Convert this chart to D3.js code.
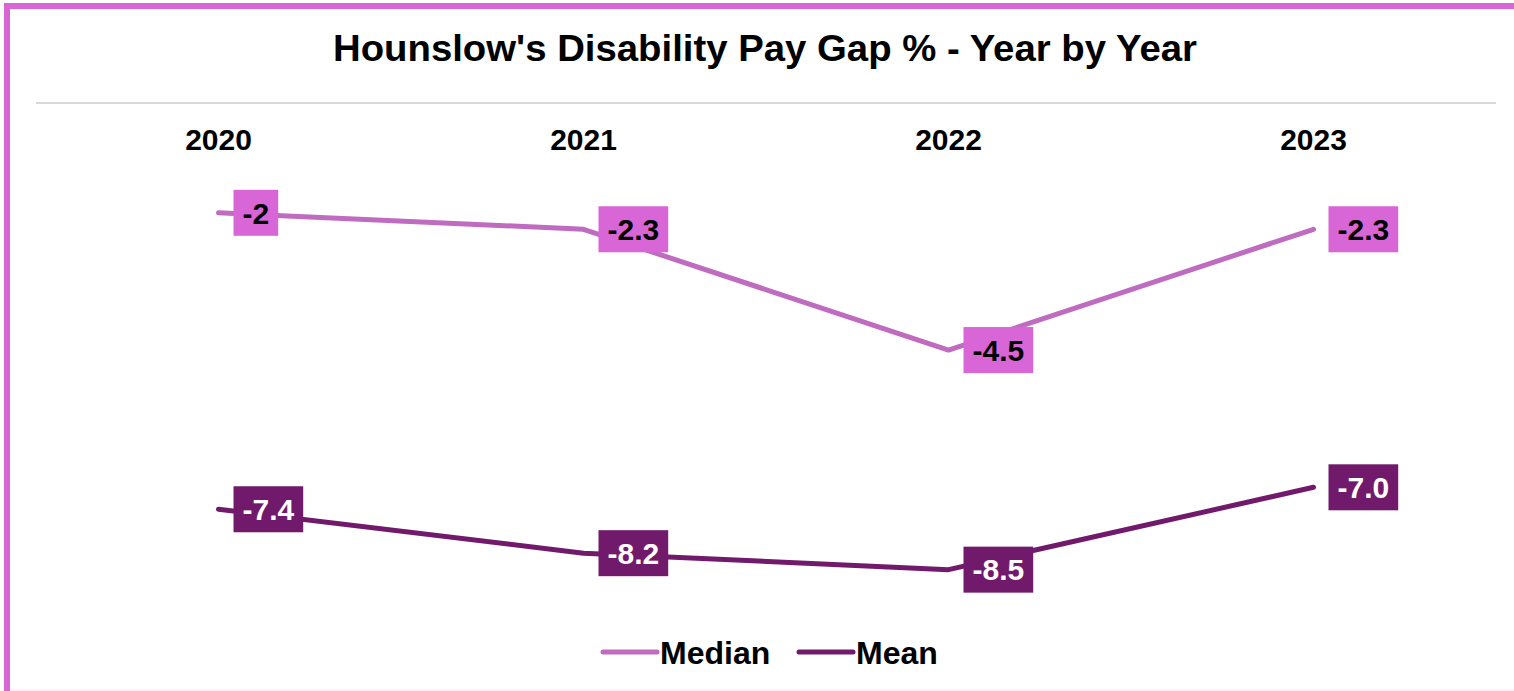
<!DOCTYPE html>
<html>
<head>
<meta charset="utf-8">
<script src="https://cdn.jsdelivr.net/npm/d3@7"></script>
<style>
  html, body { margin: 0; padding: 0; background: #fff; }
  svg { display: block; font-family: "Liberation Sans", Arial, sans-serif; }
</style>
</head>
<body>
<div id="chart"></div>
<script>
var width  = 1514;
var height = 691;

var years  = ["2020", "2021", "2022", "2023"];
var median = [-2, -2.3, -4.5, -2.3];
var mean   = [-7.4, -8.2, -8.5, -7.0];
var medianLabels = ["-2", "-2.3", "-4.5", "-2.3"];
var meanLabels   = ["-7.4", "-8.2", "-8.5", "-7.0"];

var series = [
  { name: "Median", values: median, labels: medianLabels, line: "#bf6bbf", box: "#d966d6", text: "#000" },
  { name: "Mean",   values: mean,   labels: meanLabels,   line: "#711a6c", box: "#711a6c", text: "#fff" }
];

var svg = d3.select('#chart')
  .append('svg')
  .attr('width', width)
  .attr('height', height);

// frame
svg.append('rect').attr('x', 4).attr('y', 3).attr('width', width).attr('height', 6).attr('fill', '#d966d6');
svg.append('rect').attr('x', 4).attr('y', 3).attr('width', 6).attr('height', height).attr('fill', '#d966d6');
svg.append('line').attr('x1', 10).attr('x2', width).attr('y1', 690).attr('y2', 690)
   .attr('stroke', '#f8e4f7').attr('stroke-width', 1);

svg.append('text')
   .attr('x', 765).attr('y', 61)
   .attr('text-anchor', 'middle')
   .attr('textLength', 864).attr('lengthAdjust', 'spacingAndGlyphs')
   .style('font-size', '36px').style('font-weight', 'bold')
   .text("Hounslow's Disability Pay Gap % - Year by Year");

var x = d3.scalePoint()
          .domain(years)
          .range([36, 1496])
          .padding(0.5);

var y = d3.scaleLinear()
          .domain([0, -10])
          .range([103, 652]);

// zero line at top
svg.append('line')
   .attr('x1', 36).attr('x2', 1496)
   .attr('y1', y(0)).attr('y2', y(0))
   .attr('stroke', '#d9d9d9').attr('stroke-width', 2);

// year labels
svg.selectAll('.year')
   .data(years)
   .enter()
   .append('text')
   .attr('class', 'year')
   .attr('x', function(d) { return x(d); })
   .attr('y', 150)
   .attr('text-anchor', 'middle')
   .style('font-size', '30px').style('font-weight', 'bold')
   .text(function(d) { return d; });

var line = d3.line()
             .x(function(d, i) { return x(years[i]); })
             .y(function(d) { return y(d); });

series.forEach(function(s) {
  svg.append('path')
     .attr('d', line(s.values))
     .attr('fill', 'none')
     .attr('stroke', s.line)
     .attr('stroke-width', 5)
     .attr('stroke-linecap', 'round')
     .attr('stroke-linejoin', 'round');

  var g = svg.selectAll(null)
     .data(s.values)
     .enter()
     .append('g')
     .attr('transform', function(d, i) {
       return 'translate(' + (x(years[i]) + 15) + ',' + y(d) + ')';
     });

  g.append('text')
     .attr('x', 9)
     .attr('dy', '0.36em')
     .style('font-size', '30px').style('font-weight', 'bold')
     .attr('fill', s.text)
     .text(function(d, i) { return s.labels[i]; });

  g.each(function() {
    var node = d3.select(this);
    var w = node.select('text').node().getComputedTextLength();
    node.insert('rect', 'text')
        .attr('x', 0).attr('y', -23)
        .attr('width', w + 18).attr('height', 46)
        .attr('fill', s.box);
  });
});

// legend
var legend = svg.append('g');
var legendX = [603, 799];
series.forEach(function(s, i) {
  legend.append('line')
        .attr('x1', legendX[i]).attr('x2', legendX[i] + 54)
        .attr('y1', 652).attr('y2', 652)
        .attr('stroke', s.line).attr('stroke-width', 5)
        .attr('stroke-linecap', 'round');
  legend.append('text')
        .attr('x', legendX[i] + 57).attr('y', 652)
        .attr('dy', '0.36em')
        .style('font-size', '32px').style('font-weight', 'bold')
        .text(s.name);
});
</script>
</body>
</html>
